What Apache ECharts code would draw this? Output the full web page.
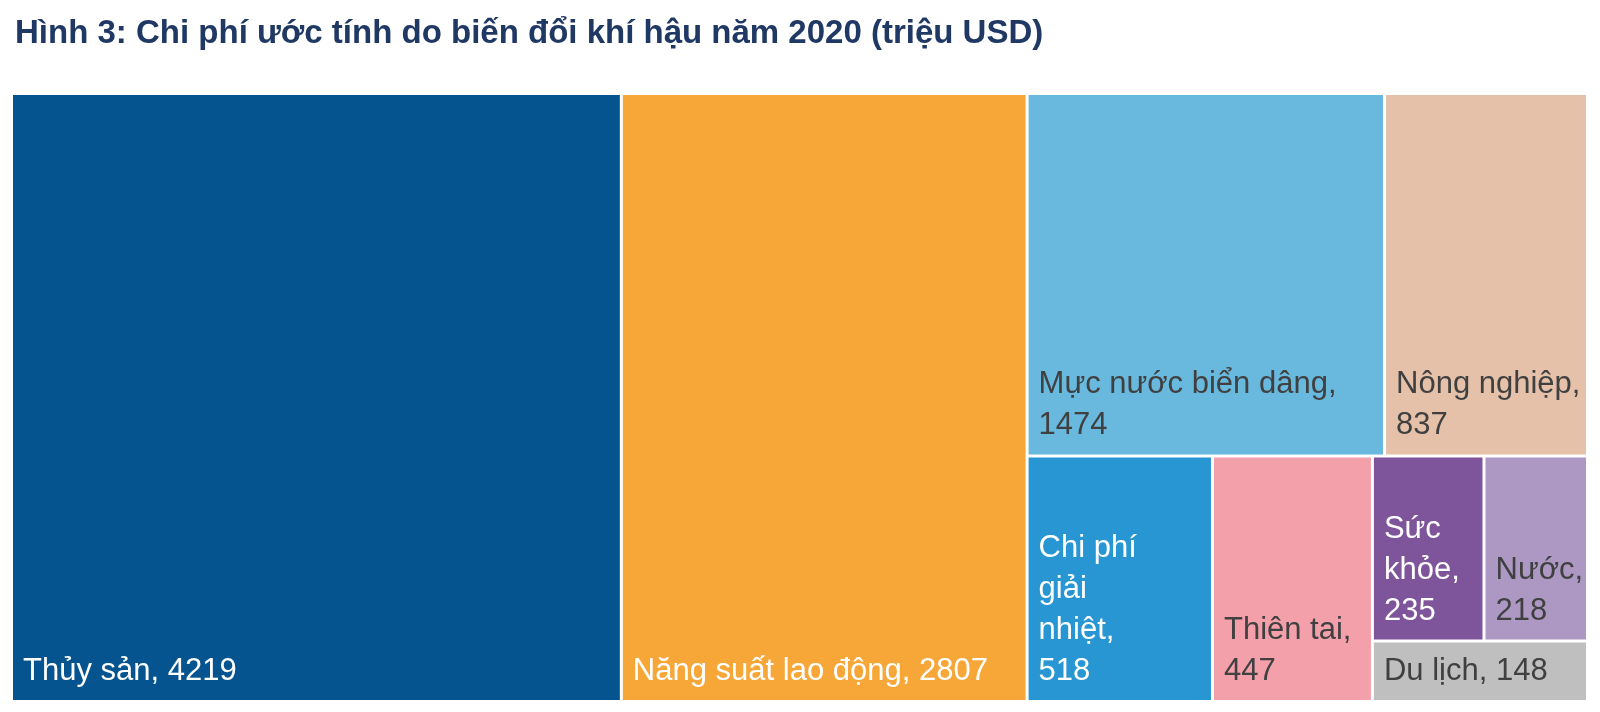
<!DOCTYPE html>
<html>
<head>
<meta charset="utf-8">
<title>Chi phí ước tính do biến đổi khí hậu năm 2020</title>
<script src="https://cdn.jsdelivr.net/npm/echarts@6/dist/echarts.min.js"></script>
<style>
    html, body { margin: 0; padding: 0; background: #fff; }
    #chart { width: 1600px; height: 712px; }
</style>
</head>
<body>
<div id="chart"></div>
<script>
// dữ liệu: chi phí (triệu USD)
const categories = ['Thủy sản', 'Năng suất lao động', 'Mực nước biển dâng', 'Nông nghiệp',
    'Chi phí giải nhiệt', 'Thiên tai', 'Sức khỏe', 'Nước', 'Du lịch'];
const values = [4219, 2807, 1474, 837, 518, 447, 235, 218, 148];
// cách xuống dòng của nhãn
const labelNames = ['Thủy sản', 'Năng suất lao động', 'Mực nước biển dâng', 'Nông nghiệp',
    'Chi phí\ngiải\nnhiệt', 'Thiên tai', 'Sức\nkhỏe', 'Nước', 'Du lịch'];
const labelSeps = [', ', ', ', ',\n', ',\n', ',\n', ',\n', ',\n', ',\n', ', '];

const colors = ['#05548f', '#f7a738', '#69b8dd', '#e5c1aa', '#2896d3', '#f3a0ab', '#7e559b', '#ad98c4', '#bfbfbf'];
const textColors = ['#ffffff', '#ffffff', '#404040', '#404040', '#ffffff', '#404040', '#ffffff', '#404040', '#404040'];

const chart = echarts.init(document.getElementById('chart'));

const data = categories.map((name, i) => ({
    name: name,
    value: values[i],
    itemStyle: { color: colors[i] },
    label: { color: textColors[i] }
}));

const option = {
    title: {
        text: 'Hình 3: Chi phí ước tính do biến đổi khí hậu năm 2020 (triệu USD)',
        left: 10,
        top: 12,
        textStyle: {
            fontFamily: 'Liberation Sans',
            fontSize: 33,
            fontWeight: 'bold',
            color: '#1f3864'
        }
    },
    series: [{
        type: 'treemap',
        left: 13,
        top: 95,
        right: 14,
        bottom: 12,
        roam: false,
        nodeClick: false,
        squareRatio: 1,
        breadcrumb: { show: false },
        itemStyle: {
            borderWidth: 0,
            gapWidth: 3,
            borderColor: '#fff'
        },
        label: {
            show: true,
            position: 'insideBottomLeft',
            distance: 0,
            padding: [0, 0, 8, 10],
            overflow: 'none',
            fontFamily: 'Liberation Sans',
            fontSize: 31,
            lineHeight: 41,
            formatter: p => {
                const i = categories.indexOf(p.name);
                return labelNames[i] + labelSeps[i] + p.value;
            }
        },
        data: data
    }]
};

chart.setOption(option);

window.addEventListener('resize', () => {
    chart.resize();
});
</script>
</body>
</html>
